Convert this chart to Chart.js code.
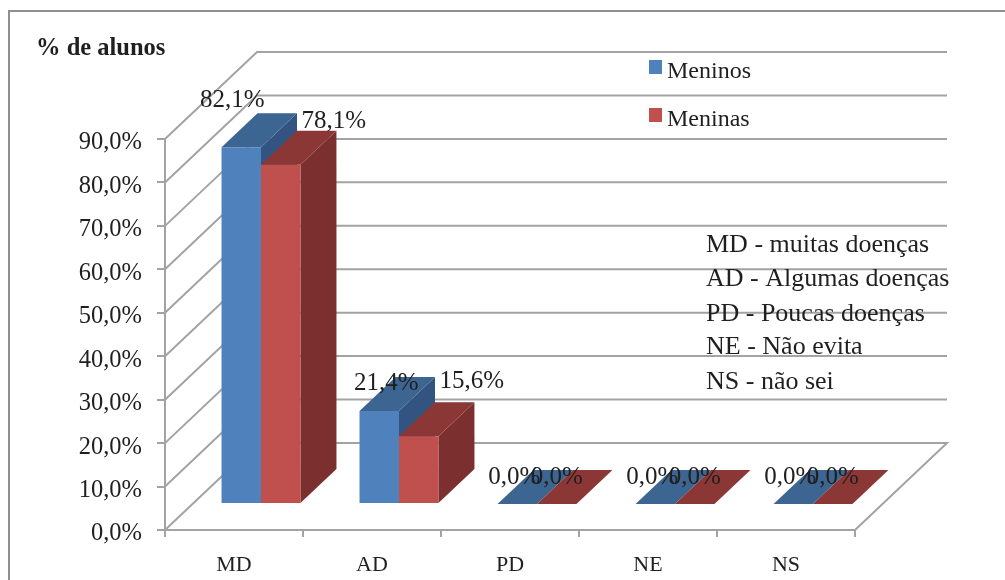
<!DOCTYPE html>
<html>
<head>
<meta charset="utf-8">
<script src="https://cdn.jsdelivr.net/npm/chart.js@4"></script>
<style>
body { margin: 0; background: #fff; }
canvas { display: block; }
</style>
</head>
<body>
<canvas id="myChart" width="1005" height="580"></canvas>
<script>
// values
const categories = ['MD', 'AD', 'PD', 'NE', 'NS'];
const meninos = [82.1, 21.4, 0, 0, 0];
const meninas = [78.1, 15.6, 0, 0, 0];
const notes = ['MD - muitas doenças', 'AD - Algumas doenças', 'PD - Poucas doenças', 'NE - Não evita', 'NS - não sei'];

const fontName = '"Liberation Serif", serif';
const textColor = '#1f1f1f';
const gridColor = '#a3a3a3';

// label position relative to the bar top, per dataset and category
const labelNudge = [
    [[-9, -47], [7, -28], [-3, -27], [-3, -27], [-3, -27]],
    [[53, -43], [53, -55], [0, -27], [0, -27], [0, -27]]
];
const faceColors = [
    { top: '#3d6591', side: '#335480' },
    { top: '#8a3735', side: '#7b302f' }
];
// wall depth and where the bars stand on the floor
const wall = { dx: 92, dy: -87 };
const floor = { dx: 27, dy: -26 };
const barDepth = { dx: 36, dy: -34 };

function formatPct(v) {
    return v.toFixed(1).replace('.', ',') + '%';
}

function poly(ctx, color, pts) {
    ctx.fillStyle = color;
    ctx.beginPath();
    pts.forEach((p, i) => i ? ctx.lineTo(p[0], p[1]) : ctx.moveTo(p[0], p[1]));
    ctx.closePath();
    ctx.fill();
}

// frame, back wall lines and the floor edge
const wallPlugin = {
    id: 'wall',
    beforeDatasetsDraw(chart) {
        const ctx = chart.ctx;
        const y = chart.scales.y;
        const { left, right } = chart.chartArea;
        ctx.save();
        ctx.strokeStyle = '#8f8f8f';
        ctx.lineWidth = 2;
        ctx.beginPath();
        ctx.moveTo(9, 580);
        ctx.lineTo(9, 11);
        ctx.lineTo(1005, 11);
        ctx.stroke();
        ctx.strokeStyle = gridColor;
        y.ticks.forEach(t => {
            const py = y.getPixelForValue(t.value);
            ctx.beginPath();
            ctx.moveTo(left, py);
            ctx.lineTo(left + wall.dx, py + wall.dy);
            ctx.lineTo(right + wall.dx, py + wall.dy);
            if (t.value === 0) ctx.lineTo(right, py);
            ctx.stroke();
        });
        ctx.restore();
    }
};

// draws the top and side of each bar, the library draws the front
const barFacesPlugin = {
    id: 'barFaces',
    beforeDatasetsDraw(chart) {
        const ctx = chart.ctx;
        ctx.save();
        ctx.translate(floor.dx, floor.dy);
        const d = barDepth;
        categories.forEach((c, i) => {
            chart.data.datasets.forEach((ds, n) => {
                const bar = chart.getDatasetMeta(n).data[i];
                const l = bar.x - bar.width / 2;
                const r = bar.x + bar.width / 2;
                if (bar.base - bar.y > 0) {
                    poly(ctx, faceColors[n].side, [[r, bar.y], [r + d.dx, bar.y + d.dy], [r + d.dx, bar.base + d.dy], [r, bar.base]]);
                }
                poly(ctx, faceColors[n].top, [[l, bar.y], [l + d.dx, bar.y + d.dy], [r + d.dx, bar.y + d.dy], [r, bar.y]]);
            });
        });
    },
    afterDatasetsDraw(chart) {
        const ctx = chart.ctx;
        ctx.restore();
        ctx.save();
        ctx.fillStyle = textColor;
        ctx.font = '25px ' + fontName;
        ctx.textAlign = 'center';
        ctx.textBaseline = 'middle';
        chart.data.datasets.forEach((ds, n) => {
            chart.getDatasetMeta(n).data.forEach((bar, i) => {
                const nudge = labelNudge[n][i];
                ctx.fillText(formatPct(ds.data[i]), bar.x + floor.dx + nudge[0], bar.y + floor.dy + nudge[1]);
            });
        });
        ctx.restore();
    }
};

// title, legend and the text notes on the right
const textPlugin = {
    id: 'texts',
    afterDraw(chart) {
        const ctx = chart.ctx;
        ctx.save();
        ctx.textBaseline = 'middle';
        ctx.textAlign = 'left';
        ctx.fillStyle = textColor;
        ctx.font = 'bold 24.5px ' + fontName;
        ctx.fillText('% de alunos', 36, 49);
        ctx.font = '24px ' + fontName;
        [67, 115].forEach((y, n) => {
            const ds = chart.data.datasets[n];
            ctx.fillStyle = ds.backgroundColor;
            ctx.fillRect(649, y - 7, 13, 14);
            ctx.fillStyle = textColor;
            ctx.fillText(ds.label, 667, y + 5);
        });
        ctx.font = '26px ' + fontName;
        [245, 279, 314, 347, 382].forEach((y, i) => ctx.fillText(notes[i], 706, y));
        ctx.restore();
    }
};

const config = {
    type: 'bar',
    data: {
        labels: categories,
        datasets: [
            { label: 'Meninos', data: meninos, backgroundColor: '#4f81bd' },
            { label: 'Meninas', data: meninas, backgroundColor: '#c0504d' }
        ]
    },
    options: {
        responsive: false,
        animation: false,
        layout: { padding: { top: 139, right: 150 } },
        categoryPercentage: 0.572,
        barPercentage: 1,
        clip: false,
        plugins: { legend: { display: false }, tooltip: { enabled: false } },
        scales: {
            x: {
                afterFit(s) { s.height = 50; },
                grid: { drawOnChartArea: false, tickLength: 7, tickColor: gridColor, lineWidth: 2 },
                border: { color: gridColor, width: 2 },
                ticks: { color: textColor, padding: 15, font: { family: fontName, size: 22 } }
            },
            y: {
                min: 0,
                max: 90,
                afterFit(s) { s.width = 165; },
                grid: { drawOnChartArea: false, tickLength: 8, tickColor: gridColor, lineWidth: 2 },
                border: { color: gridColor, width: 2 },
                ticks: { stepSize: 10, color: textColor, padding: 15, labelOffset: 4, callback: v => formatPct(v), font: { family: fontName, size: 24.5 } }
            }
        }
    },
    plugins: [wallPlugin, barFacesPlugin, textPlugin]
};

let chart = new Chart(document.getElementById('myChart').getContext('2d'), config);
</script>
</body>
</html>
